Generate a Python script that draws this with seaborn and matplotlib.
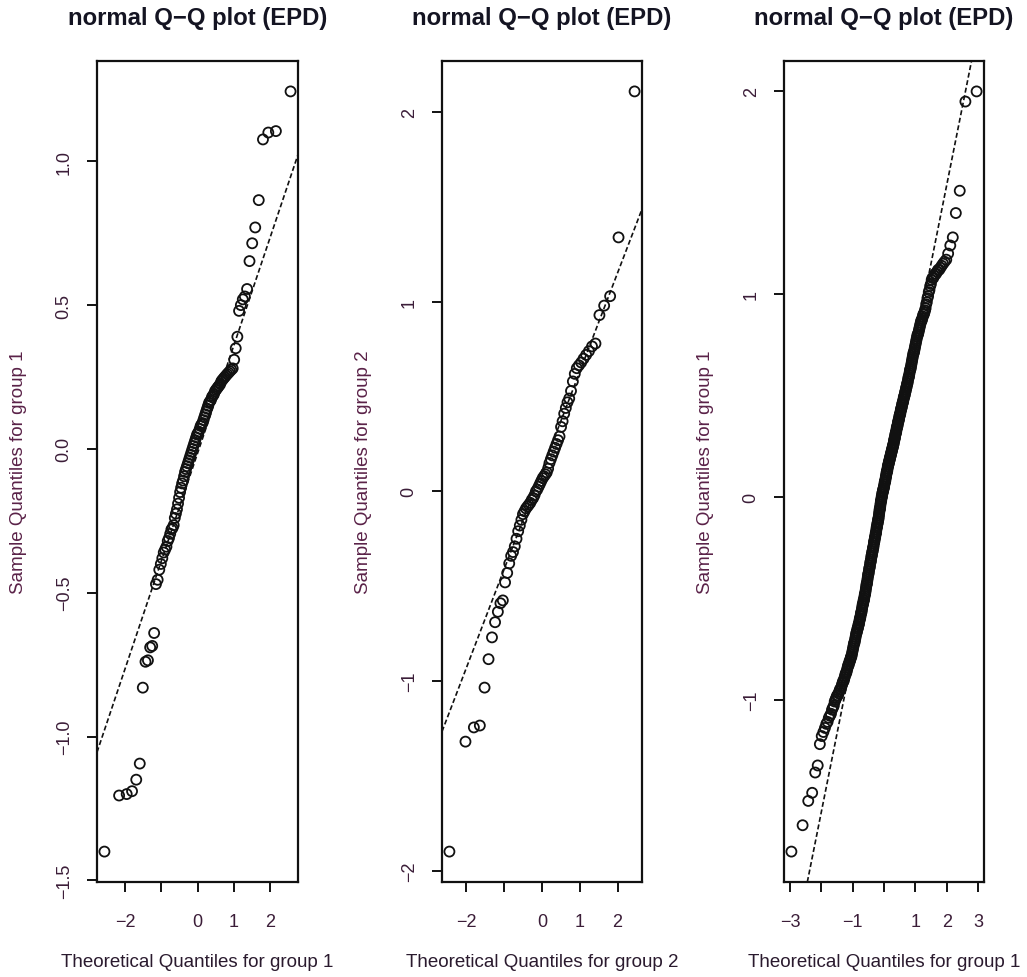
import matplotlib
matplotlib.use("Agg")
import matplotlib.pyplot as plt
import numpy as np
import pandas as pd
import seaborn as sns
from statistics import NormalDist

# ---------------- data (sorted sample values) ----------------
group1_epd = [
    -1.40, -1.205, -1.20, -1.19, -1.15, -1.094, -0.83, -0.74, -0.735, -0.69,
    -0.685, -0.64, -0.47, -0.455, -0.42, -0.40, -0.38, -0.36, -0.35, -0.34,
    -0.32, -0.31, -0.295, -0.28, -0.275, -0.265, -0.24, -0.225, -0.21, -0.19,
    -0.17, -0.15, -0.135, -0.12, -0.11, -0.095, -0.08, -0.07, -0.06, -0.05,
    -0.04, -0.03, -0.02, -0.01, 0.00, 0.01, 0.02, 0.03, 0.04, 0.05,
    0.055, 0.06, 0.07, 0.08, 0.085, 0.09, 0.10, 0.11, 0.12, 0.13,
    0.14, 0.15, 0.16, 0.165, 0.17, 0.18, 0.185, 0.19, 0.20, 0.205,
    0.21, 0.215, 0.22, 0.225, 0.235, 0.24, 0.245, 0.25, 0.255, 0.26,
    0.265, 0.27, 0.275, 0.28, 0.31, 0.35, 0.39, 0.48, 0.50, 0.52,
    0.53, 0.556, 0.653, 0.715, 0.77, 0.865, 1.076, 1.10, 1.105, 1.243,
]

group2_epd = [
    -1.90, -1.32, -1.245, -1.235, -1.035, -0.885, -0.77, -0.69, -0.635, -0.59,
    -0.575, -0.48, -0.43, -0.38, -0.34, -0.32, -0.29, -0.25, -0.21, -0.18,
    -0.15, -0.12, -0.105, -0.09, -0.08, -0.07, -0.06, -0.045, -0.035, -0.02,
    0.00, 0.01, 0.025, 0.04, 0.055, 0.07, 0.08, 0.09, 0.10, 0.12,
    0.15, 0.17, 0.19, 0.21, 0.23, 0.25, 0.27, 0.29, 0.34, 0.37,
    0.41, 0.44, 0.47, 0.49, 0.53, 0.58, 0.62, 0.65, 0.665, 0.68,
    0.70, 0.72, 0.74, 0.765, 0.78, 0.93, 0.98, 1.03, 1.34, 2.11,
]

group3_epd = [
    -1.75, -1.62, -1.50, -1.46, -1.36, -1.325, -1.22, -1.18, -1.16, -1.14,
    -1.12, -1.11, -1.09, -1.08, -1.07, -1.05, -1.04, -1.03, -1.01, -1.00,
    -0.99, -0.98, -0.98, -0.97, -0.96, -0.95, -0.95, -0.94, -0.93, -0.92,
    -0.91, -0.91, -0.90, -0.89, -0.88, -0.87, -0.87, -0.86, -0.85, -0.84,
    -0.83, -0.83, -0.82, -0.81, -0.81, -0.80, -0.79, -0.79, -0.78, -0.77,
    -0.76, -0.75, -0.74, -0.73, -0.72, -0.72, -0.71, -0.70, -0.69, -0.68,
    -0.67, -0.67, -0.66, -0.65, -0.65, -0.64, -0.63, -0.63, -0.62, -0.61,
    -0.60, -0.60, -0.59, -0.58, -0.57, -0.57, -0.56, -0.55, -0.54, -0.53,
    -0.53, -0.52, -0.51, -0.51, -0.50, -0.49, -0.48, -0.48, -0.47, -0.46,
    -0.45, -0.44, -0.43, -0.43, -0.42, -0.41, -0.40, -0.39, -0.38, -0.38,
    -0.37, -0.36, -0.35, -0.35, -0.34, -0.33, -0.32, -0.32, -0.31, -0.30,
    -0.29, -0.29, -0.28, -0.27, -0.27, -0.26, -0.25, -0.25, -0.24, -0.23,
    -0.22, -0.22, -0.21, -0.20, -0.20, -0.19, -0.18, -0.18, -0.17, -0.16,
    -0.15, -0.15, -0.14, -0.13, -0.13, -0.12, -0.11, -0.11, -0.10, -0.09,
    -0.08, -0.07, -0.06, -0.06, -0.05, -0.04, -0.03, -0.02, -0.02, -0.01,
    0.00, 0.00, 0.01, 0.02, 0.02, 0.03, 0.03, 0.04, 0.04, 0.05,
    0.05, 0.06, 0.07, 0.07, 0.08, 0.08, 0.09, 0.10, 0.10, 0.11,
    0.12, 0.12, 0.13, 0.13, 0.14, 0.15, 0.15, 0.16, 0.16, 0.17,
    0.17, 0.18, 0.18, 0.19, 0.19, 0.20, 0.20, 0.21, 0.21, 0.22,
    0.22, 0.23, 0.23, 0.24, 0.24, 0.25, 0.25, 0.26, 0.26, 0.27,
    0.28, 0.28, 0.29, 0.29, 0.30, 0.31, 0.31, 0.32, 0.32, 0.33,
    0.34, 0.34, 0.35, 0.35, 0.36, 0.37, 0.37, 0.38, 0.38, 0.39,
    0.40, 0.40, 0.41, 0.41, 0.42, 0.43, 0.43, 0.44, 0.44, 0.45,
    0.46, 0.46, 0.47, 0.47, 0.48, 0.49, 0.49, 0.50, 0.50, 0.51,
    0.52, 0.52, 0.53, 0.54, 0.54, 0.55, 0.56, 0.56, 0.57, 0.58,
    0.59, 0.59, 0.60, 0.61, 0.62, 0.63, 0.63, 0.64, 0.65, 0.66,
    0.67, 0.68, 0.69, 0.70, 0.71, 0.71, 0.72, 0.73, 0.74, 0.75,
    0.76, 0.77, 0.78, 0.79, 0.80, 0.80, 0.81, 0.82, 0.83, 0.84,
    0.85, 0.86, 0.87, 0.87, 0.88, 0.89, 0.90, 0.90, 0.91, 0.92,
    0.93, 0.95, 0.96, 0.98, 0.99, 1.01, 1.02, 1.04, 1.05, 1.07,
    1.08, 1.08, 1.09, 1.10, 1.10, 1.11, 1.12, 1.12, 1.13, 1.14,
    1.15, 1.16, 1.17, 1.20, 1.24, 1.28, 1.40, 1.51, 1.95, 2.00,
]

panel_titles = ["normal Q\u2212Q plot (EPD)"] * 3
x_labels = ["Theoretical Quantiles for group 1",
            "Theoretical Quantiles for group 2",
            "Theoretical Quantiles for group 1"]
y_labels = ["Sample Quantiles for group 1",
            "Sample Quantiles for group 2",
            "Sample Quantiles for group 1"]
x_ticks = [[-2, -1, 0, 1, 2], [-2, -1, 0, 1, 2], [-3, -2, -1, 0, 1, 2, 3]]
x_ticklabels = [["\u22122", "", "0", "1", "2"],
                ["\u22122", "", "0", "1", "2"],
                ["\u22123", "", "\u22121", "", "1", "2", "3"]]
y_ticks = [[-1.5, -1.0, -0.5, 0.0, 0.5, 1.0], [-2, -1, 0, 1, 2], [-1, 0, 1, 2]]
y_ticklabels = [["\u22121.5", "\u22121.0", "\u22120.5", "0.0", "0.5", "1.0"],
                ["\u22122", "\u22121", "0", "1", "2"],
                ["\u22121", "0", "1", "2"]]
samples = [group1_epd, group2_epd, group3_epd]

# ---------------- style ----------------
sns.set_style("ticks")
plt.rcParams["font.family"] = ["Liberation Sans", "DejaVu Sans"]
plt.rcParams["axes.unicode_minus"] = True

W, H = 1027, 978
fig = plt.figure(figsize=(W / 100, H / 100), dpi=100)
fig.patch.set_facecolor("white")

# axes boxes in pixels (left, right, top, bottom)
boxes = [(97, 298, 62, 883), (442, 642, 62, 883), (784, 984, 62, 883)]
ylabel_x = [19, 363, 705]

label_col = "#3b1d38"
ylabel_col = "#5a2248"
nd = NormalDist()


def theo_quantiles(n):
    a = 3 / 8 if n <= 10 else 0.5
    return [nd.inv_cdf((i + 1 - a) / (n + 1 - 2 * a)) for i in range(n)]


for k in range(3):
    l, r, t, b = boxes[k]
    ax = fig.add_axes([l / W, 1 - b / H, (r - l) / W, (b - t) / H])
    y = np.sort(np.asarray(samples[k], dtype=float))
    x = np.asarray(theo_quantiles(len(y)))
    df = pd.DataFrame({"theoretical": x, "sample": y})

    sns.scatterplot(data=df, x="theoretical", y="sample", ax=ax,
                    marker="o", s=52, facecolors="none",
                    edgecolor="#111111", linewidth=1.3, legend=False)

    # qqline through the first and third quartiles
    yq = np.quantile(y, [0.25, 0.75])
    xq = np.array([nd.inv_cdf(0.25), nd.inv_cdf(0.75)])
    slope = (yq[1] - yq[0]) / (xq[1] - xq[0])
    intercept = yq[0] - slope * xq[0]
    ax.axline((0, intercept), slope=slope, color="#111111",
              linestyle=(0, (3.0, 1.6)), linewidth=1.2, zorder=1)

    # R-like limits: data range extended 4 %
    xr = x.max() - x.min()
    yr = y.max() - y.min()
    ax.set_xlim(x.min() - 0.04 * xr, x.max() + 0.04 * xr)
    ax.set_ylim(y.min() - 0.04 * yr, y.max() + 0.04 * yr)

    ax.set_xticks(x_ticks[k])
    ax.set_xticklabels(x_ticklabels[k])
    ax.set_yticks(y_ticks[k])
    ax.set_yticklabels(y_ticklabels[k], rotation=90, va="center")
    ax.tick_params(axis="both", direction="out", length=7.5, width=1.4,
                   color="#111111", labelsize=13, labelcolor=label_col)
    ax.tick_params(axis="x", pad=15)
    ax.tick_params(axis="y", pad=10)
    ax.set_xlabel("")
    ax.set_ylabel("")
    for sp in ax.spines.values():
        sp.set_visible(True)
        sp.set_linewidth(1.6)
        sp.set_color("#111111")

    cx = (l + r) / 2
    cy = (t + b) / 2
    fig.text(cx / W, 1 - 19 / H, panel_titles[k], ha="center", va="center",
             fontsize=17.2, fontweight="bold", color="#141422")
    fig.text(cx / W, 1 - 963 / H, x_labels[k], ha="center", va="center",
             fontsize=13.5, color="#2a1a2e")
    fig.text(ylabel_x[k] / W, 1 - cy / H, y_labels[k], ha="center",
             va="center", rotation=90, fontsize=13.5, color=ylabel_col)

fig.savefig("out.png", dpi=100, facecolor="white")
